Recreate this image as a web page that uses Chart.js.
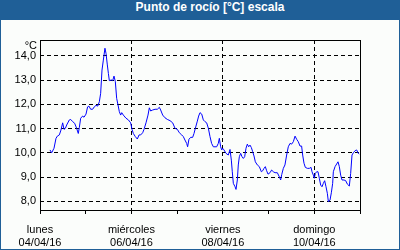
<!DOCTYPE html>
<html>
<head>
<meta charset="utf-8">
<script src="https://cdn.jsdelivr.net/npm/chart.js@4"></script>
<style>
  html, body { margin: 0; padding: 0; background: #fff; }
  .box { position: relative; width: 400px; height: 250px; background: #1f5f97; overflow: hidden; }
  .title { position: absolute; left: 20px; right: 0; top: 0; height: 20px; line-height: 20px; text-align: center;
           color: #fff; font: bold 12px "Liberation Sans", sans-serif; }
  .plot { position: absolute; left: 1px; top: 20px; width: 398px; height: 229px; background: #fbfdfb; }
</style>
</head>
<body>
<div class="box">
  <div class="title">Punto de rocío [°C] escala</div>
  <div class="plot"><canvas id="chart" width="398" height="229"></canvas></div>
</div>
<script>
// hours since lunes 04/04/16 00:00
const hours = [
  5.25, 6.1, 7.35, 8.4, 9.1, 10.15, 11.0, 11.9, 12.6, 13.3, 14.0, 15.4, 16.1, 17.15, 18.2, 19.25, 20.1, 20.65,
  21.35, 22.4, 23.1, 24.15, 25.0, 25.7, 26.6, 27.65, 28.5, 29.4, 30.3, 31.15, 31.85, 32.55, 33.25, 34.1, 34.65,
  35.35, 35.9, 36.4, 37.45, 38.15, 38.85, 39.55, 40.25, 40.95, 41.65, 42.35, 42.9, 43.75, 45.15, 46.4, 47.6,
  48.3, 49.0, 50.05, 51.1, 52.0, 52.85, 53.9, 54.6, 55.65, 56.7, 57.4, 58.1, 59.15, 60.4, 61.6, 62.65, 63.35,
  64.4, 65.6, 66.85, 68.25, 69.65, 70.9, 72.1, 73.15, 74.4, 75.25, 76.1, 77.0, 77.5, 78.2, 79.1, 80.15, 80.85,
  81.55, 82.6, 83.3, 84.0, 84.9, 85.75, 86.6, 87.5, 88.4, 89.25, 90.1, 91.0, 92.75, 93.6, 94.15, 94.85, 95.4,
  95.9, 96.6, 97.65, 98.85, 99.75, 100.45, 100.95, 101.5, 102.4, 102.9, 103.6, 104.1, 104.65, 105.35, 106.05,
  106.75, 107.45, 108.15, 108.85, 109.55, 110.25, 110.95, 111.65, 112.35, 113.05, 114.1, 115.15, 116.2, 116.9,
  117.6, 118.3, 119.0, 119.7, 120.75, 121.6, 122.5, 123.4, 124.6, 125.65, 126.35, 126.9, 127.75, 128.6, 129.5,
  130.35, 131.25, 132.1, 133.0, 133.9, 134.75, 135.6, 136.5, 137.35, 137.9, 138.6, 139.3, 140.35, 141.4, 142.3,
  142.8, 143.5, 144.0, 144.55, 145.25, 145.95, 146.65, 147.35, 148.05, 148.75, 149.45, 150.15, 150.85, 151.4,
  152.25, 152.95, 153.65, 154.0, 154.9, 155.75, 156.45, 157.15, 157.85, 158.55, 159.6, 160.5, 161.35, 162.4,
  163.1, 163.8, 164.5, 165.4, 166.25, 167.1, 167.6
];
const dewPoint = [
  10.12, 10.0, 10.19, 10.6, 10.69, 10.74, 10.94, 11.24, 10.97, 11.01, 11.15, 11.36, 11.38, 11.29, 11.22, 11.01, 10.8, 11.05,
  11.43, 11.52, 11.47, 11.6, 11.9, 11.93, 11.8, 11.8, 11.9, 11.96, 11.93, 12.11, 12.46, 13.42, 13.83, 14.32, 14.11,
  13.63, 13.28, 12.98, 13.01, 12.98, 13.17, 12.94, 12.25, 11.98, 11.7, 11.56, 11.66, 11.56, 11.43, 11.36, 11.24,
  10.97, 10.8, 10.67, 10.57, 10.74, 10.74, 10.83, 10.97, 11.24, 11.56, 11.86, 11.73, 11.77, 11.8, 11.8, 11.88, 11.77,
  11.56, 11.45, 11.38, 11.33, 11.24, 11.01, 10.97, 10.83, 10.74, 10.67, 10.53, 10.39, 10.25, 10.56, 10.64, 10.64, 10.8,
  11.01, 11.31, 11.52, 11.66, 11.6, 11.36, 11.29, 11.24, 11.01, 10.67, 10.39, 10.25, 10.25, 10.39, 10.6, 10.25, 10.12,
  10.19, 10.12, 9.98, 9.91, 10.14, 9.7, 9.22, 8.74, 8.6, 8.49, 8.88, 9.5, 9.84, 9.98, 9.84,
  9.77, 9.84, 10.19, 10.36, 10.25, 10.32, 10.22, 10.05, 9.87, 9.63, 9.5, 9.43, 9.22, 9.26,
  9.36, 9.43, 9.26, 9.12, 9.18, 9.29, 9.22, 9.18, 9.18, 9.01, 8.88, 9.1, 9.36, 9.5, 9.91,
  10.25, 10.39, 10.36, 10.46, 10.69, 10.56, 10.46, 10.28, 10.28, 9.91, 9.57, 9.4, 9.36, 9.36, 9.4,
  9.22, 9.08, 8.95, 9.15, 9.22, 9.22, 8.95, 8.67, 8.6, 8.74, 8.85, 8.6, 8.33, 7.98,
  8.05, 8.35, 8.74, 9.22, 9.43, 9.54, 9.63, 9.43, 9.08, 8.88, 8.88, 8.85, 8.71, 8.63,
  9.15, 9.91, 10.0, 10.09, 10.12, 9.98, 9.95
];
const labelHours = [0, 48, 96, 144];
const labelDays = ['lunes', 'miércoles', 'viernes', 'domingo'];
const labelDates = ['04/04/16', '06/04/16', '08/04/16', '10/04/16'];
const yTicks = [8, 9, 10, 11, 12, 13, 14];
const unit = '°C';

const font = { family: '"Liberation Sans", sans-serif', size: 11, lineHeight: 1.2 };

const frame = {
  id: 'frame',
  afterDraw(chart) {
    const { ctx, chartArea: a } = chart;
    ctx.save();
    ctx.strokeStyle = '#000';
    ctx.lineWidth = 1;
    ctx.strokeRect(Math.round(a.left) + 0.5, Math.round(a.top) + 0.5, Math.round(a.right - a.left), Math.round(a.bottom - a.top));
    ctx.fillStyle = '#000';
    ctx.font = '11px "Liberation Sans", sans-serif';
    ctx.textAlign = 'right';
    ctx.fillText(unit, a.left - 3, a.top + 9);
    ctx.restore();
  }
};

new Chart(document.getElementById('chart'), {
  type: 'line',
  data: {
    datasets: [{
      data: hours.map((h, i) => ({ x: h, y: dewPoint[i] })),
      borderColor: '#0000ff',
      borderWidth: 1,
      pointRadius: 0,
      tension: 0,
      fill: false
    }]
  },
  options: {
    responsive: false,
    animation: false,
    layout: { padding: { top: 20, right: 39, left: 0, bottom: 0 } },
    plugins: { legend: { display: false }, tooltip: { enabled: false } },
    scales: {
      x: {
        type: 'linear',
        min: 0,
        max: 168,
        afterFit: s => { s.height = 39; },
        afterBuildTicks: s => { s.ticks = [0, 24, 48, 72, 96, 120, 144, 168].map(v => ({ value: v })); },
        ticks: {
          autoSkip: false,
          maxRotation: 0,
          padding: 9,
          color: '#000',
          font,
          callback: v => {
            const i = labelHours.indexOf(v);
            return i < 0 ? '' : [labelDays[i], labelDates[i]];
          }
        },
        grid: {
          color: c => (c.tick && c.tick.value % 48 === 0 && c.tick.value > 0 && c.tick.value < 168) ? '#000' : 'rgba(0,0,0,0)',
          tickColor: '#000',
          tickLength: 4,
          lineWidth: 1
        },
        border: { display: false, dash: [4, 3] }
      },
      y: {
        min: 7.64,
        max: 14.66,
        afterFit: s => { s.width = 39; },
        afterBuildTicks: s => { s.ticks = yTicks.map(v => ({ value: v })); },
        ticks: {
          padding: 4,
          color: '#000',
          font,
          callback: v => v.toFixed(1).replace('.', ',')
        },
        grid: { color: '#000', drawTicks: false, lineWidth: 1 },
        border: { display: false, dash: [4, 3] }
      }
    }
  },
  plugins: [frame]
});
</script>
</body>
</html>
